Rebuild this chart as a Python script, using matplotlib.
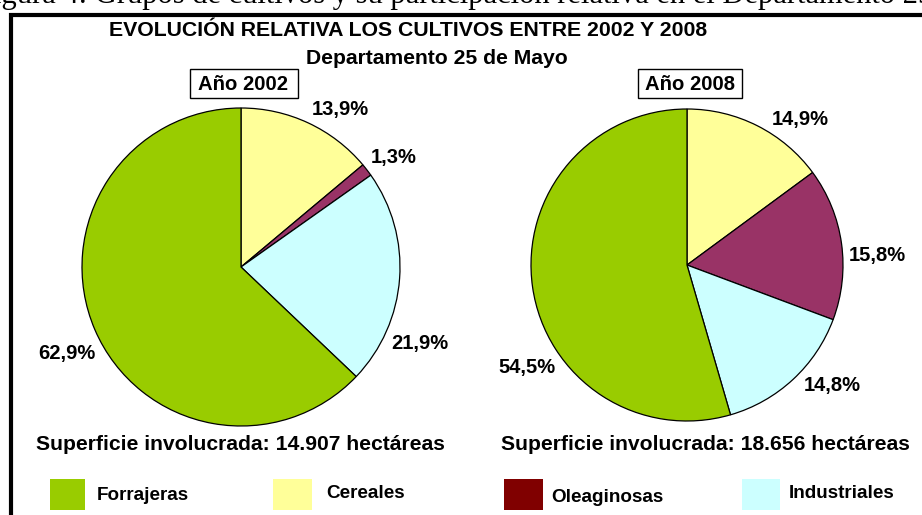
import matplotlib
matplotlib.use("Agg")
import matplotlib.pyplot as plt
from matplotlib.patches import Rectangle

# ---- data ----
categories = ["Forrajeras", "Cereales", "Oleaginosas", "Industriales"]
# pie order clockwise from top: Cereales, Oleaginosas, Industriales, Forrajeras
pie_order = ["Cereales", "Oleaginosas", "Industriales", "Forrajeras"]
values_2002 = {"Forrajeras": 62.9, "Cereales": 13.9, "Oleaginosas": 1.3, "Industriales": 21.9}
values_2008 = {"Forrajeras": 54.5, "Cereales": 14.9, "Oleaginosas": 15.8, "Industriales": 14.8}
years = ["Año 2002", "Año 2008"]
superficies = ["Superficie involucrada: 14.907 hectáreas",
               "Superficie involucrada: 18.656 hectáreas"]
title = "EVOLUCIÓN RELATIVA LOS CULTIVOS ENTRE 2002 Y 2008"
subtitle = "Departamento 25 de Mayo"
caption = "Figura 4: Grupos de cultivos y su participación relativa en el Departamento 25 de Mayo"

pie_colors = {"Forrajeras": "#99CC00", "Cereales": "#FFFF99",
              "Oleaginosas": "#993366", "Industriales": "#CCFFFF"}
legend_colors = {"Forrajeras": "#99CC00", "Cereales": "#FFFF99",
                 "Oleaginosas": "#800000", "Industriales": "#CCFFFF"}

W, H = 922, 515
fig = plt.figure(figsize=(W / 100, H / 100), dpi=100)
ax = fig.add_axes([0, 0, 1, 1])
FONT = "Liberation Sans"

def Y(py):
    return H - py

# frame (extends past right/bottom edges)
ax.add_patch(Rectangle((10.5, Y(600)), 930, 600 - 15, fill=False, lw=3.0, ec="black"))

# caption above the frame, cut off at the top edge as in the source
ax.text(-24, Y(2.5), caption, family="Liberation Serif", fontsize=22,
        ha="left", va="baseline", color="black")

ax.text(408, Y(31), title, family=FONT, fontweight="bold", fontsize=15.3,
        ha="center", va="center")
ax.text(437, Y(58), subtitle, family=FONT, fontweight="bold", fontsize=15.2,
        ha="center", va="center")

pies = [
    dict(vals=values_2002, center=(241, 267), r=159, box=(190, 69, 108, 29),
         year_xy=(243, 85), sup_xy=(240.5, 445),
         labels={"Cereales": (340, 110), "Oleaginosas": (394, 158),
                 "Industriales": (420, 343), "Forrajeras": (67, 353)}),
    dict(vals=values_2008, center=(687, 265), r=156, box=(638, 69, 104, 29),
         year_xy=(690, 85), sup_xy=(705, 445),
         labels={"Cereales": (800, 120), "Oleaginosas": (877, 255),
                 "Industriales": (832, 385), "Forrajeras": (527, 368)}),
]

for p, yr, sup in zip(pies, years, superficies):
    vals = [p["vals"][c] for c in pie_order]
    cols = [pie_colors[c] for c in pie_order]
    cx, cy = p["center"]
    ax.pie(vals, colors=cols, startangle=90, counterclock=False,
           center=(cx, Y(cy)), radius=p["r"],
           wedgeprops=dict(edgecolor="black", linewidth=0.9), frame=True)
    for c in pie_order:
        lx, ly = p["labels"][c]
        ax.text(lx, Y(ly), f"{p['vals'][c]:.1f}%".replace(".", ","), family=FONT,
                fontweight="bold", fontsize=14.5, ha="center", va="center")
    bx, by, bw, bh = p["box"]
    ax.add_patch(Rectangle((bx, Y(by + bh)), bw, bh, fill=False, lw=1.0, ec="black"))
    ax.text(p["year_xy"][0], Y(p["year_xy"][1]), yr, family=FONT, fontweight="bold",
            fontsize=14.6, ha="center", va="center")
    ax.text(p["sup_xy"][0], Y(p["sup_xy"][1]), sup, family=FONT, fontweight="bold",
            fontsize=15.2, ha="center", va="center")

# legend
leg_sq_x = [50, 273, 504, 742]
leg_sq_w = [35, 39, 39, 38]
leg_txt_x = [97, 326, 551, 789]
leg_txt_y = [495, 494, 497, 493]
for c, sx, sw, tx, ty in zip(categories, leg_sq_x, leg_sq_w, leg_txt_x, leg_txt_y):
    ax.add_patch(Rectangle((sx, Y(510)), sw, 31, fc=legend_colors[c], ec="none"))
    ax.text(tx, Y(ty), c, family=FONT, fontweight="bold", fontsize=13.6,
            ha="left", va="center")

ax.set_xlim(0, W)
ax.set_ylim(0, H)
ax.set_aspect("equal")
ax.axis("off")
fig.savefig("out.png", dpi=100)
